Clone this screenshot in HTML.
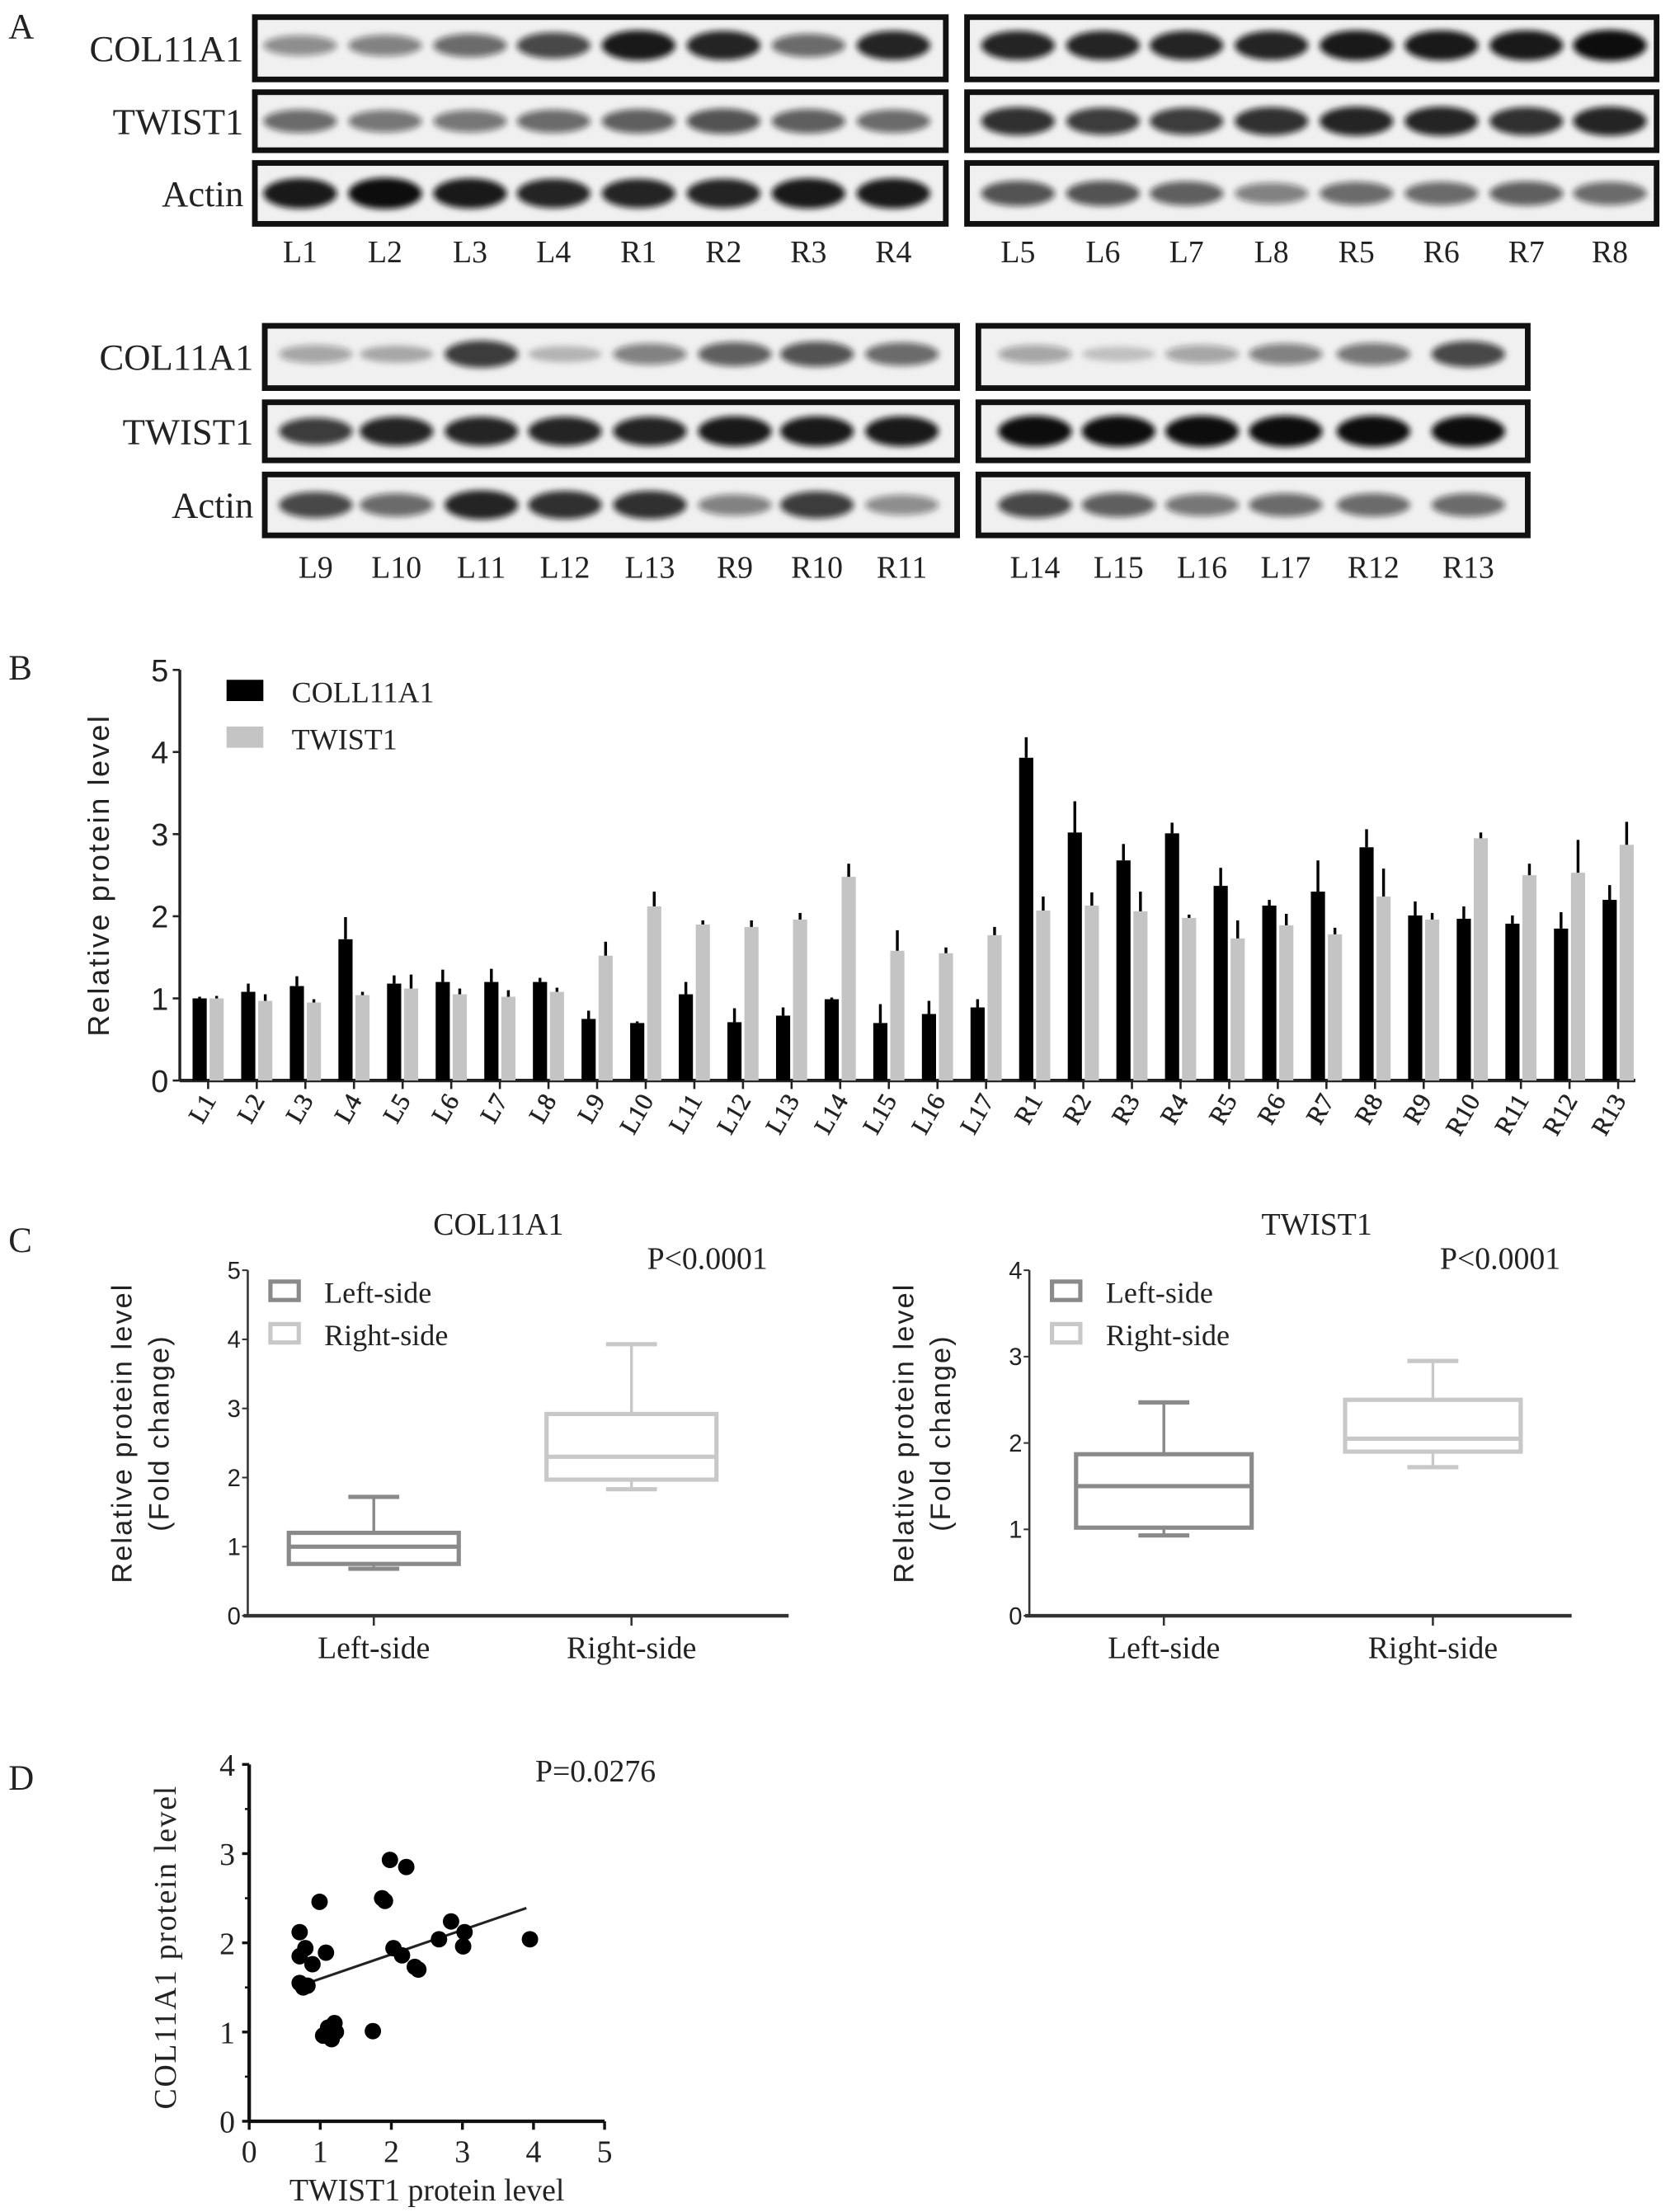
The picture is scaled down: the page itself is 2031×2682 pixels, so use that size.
<!DOCTYPE html>
<html><head><meta charset="utf-8"><style>
html,body{margin:0;padding:0;background:#fff;}
svg{display:block;}
text{font-family:"Liberation Serif",serif;fill:#222;}
.sans{font-family:"Liberation Sans",sans-serif;}
</style></head><body>
<svg id="fig" width="2031" height="2682" viewBox="0 0 1183 1562" xmlns="http://www.w3.org/2000/svg">
<defs><filter id="blur" x="-50%" y="-100%" width="200%" height="300%"><feGaussianBlur stdDeviation="2.2"/></filter></defs>
<g id="panelA">
<text x="6" y="27" font-size="25">A</text>
</g>
<g id="panelB">
<text x="6" y="480" font-size="25">B</text>
</g>
<g id="panelC">
<text x="6" y="884" font-size="25">C</text>
</g>
<g id="panelD">
<text x="6" y="1264" font-size="25">D</text>
</g>
</svg>
<script>
// ---------- Panel B data ----------
const categories=["L1","L2","L3","L4","L5","L6","L7","L8","L9","L10","L11","L12","L13","L14","L15","L16","L17","R1","R2","R3","R4","R5","R6","R7","R8","R9","R10","R11","R12","R13"];
const colValues=[1.0,1.08,1.15,1.72,1.18,1.2,1.2,1.2,0.75,0.7,1.05,0.71,0.79,0.99,0.7,0.81,0.89,3.93,3.02,2.68,3.01,2.37,2.13,2.3,2.84,2.01,1.97,1.91,1.85,2.2];
const colErrors=[0.02,0.1,0.12,0.27,0.1,0.15,0.16,0.05,0.1,0.02,0.15,0.17,0.1,0.02,0.23,0.16,0.1,0.25,0.38,0.2,0.13,0.22,0.07,0.38,0.22,0.17,0.15,0.1,0.2,0.18];
const twistValues=[1.0,0.97,0.95,1.04,1.12,1.05,1.02,1.08,1.52,2.12,1.9,1.87,1.96,2.48,1.58,1.55,1.77,2.07,2.13,2.06,1.98,1.73,1.89,1.78,2.24,1.96,2.95,2.5,2.53,2.87];
const twistErrors=[0.03,0.08,0.04,0.04,0.17,0.07,0.08,0.05,0.17,0.18,0.05,0.08,0.08,0.16,0.25,0.07,0.1,0.17,0.16,0.24,0.04,0.22,0.14,0.08,0.34,0.08,0.07,0.14,0.4,0.28];
const bTicks=[0,1,2,3,4,5];
// ---------- Panel C data ----------
const boxGroups=["Left-side","Right-side"];
const colBoxStats=[[0.68,0.75,1.0,1.2,1.72],[1.83,1.97,2.3,2.92,3.93]];
const twistBoxStats=[[0.93,1.02,1.5,1.87,2.47],[1.72,1.9,2.05,2.5,2.95]];
const colBoxTicks=[0,1,2,3,4,5];
const twistBoxTicks=[0,1,2,3,4];
// ---------- Panel D data ----------
const scatterTwist=[0.71,0.79,0.71,0.89,1.08,0.99,0.71,0.82,0.76,1.11,1.2,1.04,1.16,1.22,1.74,1.87,1.91,1.98,2.21,2.03,2.15,2.33,2.38,2.67,2.84,3.03,3.01,3.95];
const scatterCol=[2.12,1.94,1.85,1.76,1.89,2.46,1.55,1.52,1.5,1.05,1.1,0.96,0.92,1.0,1.01,2.5,2.47,2.93,2.85,1.94,1.86,1.73,1.7,2.04,2.24,2.12,1.96,2.04];
const fitLine=[[0.9,1.57],[3.9,2.39]];
const dTicksX=[0,1,2,3,4,5];
const dTicksY=[0,1,2,3,4];
// ---------- Panel A band intensities ----------
const blotSets=[
 {x0:178,x1:670,rows:[10,63,113],h:[48,45,47],lanes:["L1","L2","L3","L4","R1","R2","R3","R4"],cx:[212,272,332,391,451,511,571,631],ly:185,
  col:[0.45,0.5,0.6,0.75,0.95,0.9,0.6,0.9],tw:[0.6,0.55,0.55,0.6,0.65,0.7,0.65,0.6],ac:[0.95,1,0.95,0.9,0.9,0.9,0.95,0.95]},
 {x0:681,x1:1172,rows:[10,63,113],h:[48,45,47],lanes:["L5","L6","L7","L8","R5","R6","R7","R8"],cx:[719,779,838,898,958,1018,1078,1137],ly:185,
  col:[0.9,0.9,0.9,0.9,0.95,0.95,0.95,1],tw:[0.85,0.8,0.8,0.85,0.9,0.9,0.85,0.9],ac:[0.7,0.7,0.65,0.5,0.6,0.6,0.65,0.6]},
 {x0:185,x1:678,rows:[228,282,333],h:[48,45,47],lanes:["L9","L10","L11","L12","L13","R9","R10","R11"],cx:[223,280,340,399,459,519,577,637],ly:408,
  col:[0.35,0.3,0.8,0.25,0.5,0.65,0.7,0.6],tw:[0.8,0.9,0.9,0.9,0.9,0.95,0.95,0.95],ac:[0.75,0.6,0.9,0.85,0.85,0.5,0.8,0.45]},
 {x0:689,x1:1081,rows:[228,282,333],h:[48,45,47],lanes:["L14","L15","L16","L17","R12","R13"],cx:[731,790,849,908,970,1037],ly:408,
  col:[0.35,0.2,0.35,0.5,0.55,0.75],tw:[1,1,1,1,1,1],ac:[0.75,0.65,0.55,0.6,0.6,0.6]}
];
const rowLabels=["COL11A1","TWIST1","Actin"];

const NS="http://www.w3.org/2000/svg";
function mk(parent,tag,attrs,txt){const e=document.createElementNS(NS,tag);for(const k in attrs)e.setAttribute(k,attrs[k]);if(txt!==undefined)e.textContent=txt;parent.appendChild(e);return e;}

// ---------- Panel A ----------
const pA=document.getElementById('panelA');
blotSets.forEach((s,si)=>{
  s.rows.forEach((ry,ri)=>{
    if(si%2===0){
      const t=mk(pA,'text',{x:s.x0-6,y:ry+s.h[ri]/2+9,'font-size':26,'text-anchor':'end'},rowLabels[ri]);
      
      
    }
    const r=mk(pA,'rect',{x:s.x0+2,y:ry+2,width:s.x1-s.x0-4,height:s.h[ri]-4,fill:'#f0f0f0',stroke:'#111','stroke-width':4});
    
    
    const key=ri===0?'col':(ri===1?'tw':'ac');
    s.cx.forEach((cx,li)=>{
      const v=s[key][li];
      const b=mk(pA,'ellipse',{cx:cx,cy:ry+s.h[ri]/2-(ri===0?2:0),rx:26,ry:4+v*7,fill:'#111','fill-opacity':v,filter:'url(#blur)'});
      
      
    });
  });
  s.lanes.forEach((ln,li)=>{
    const t=mk(pA,'text',{x:s.cx[li],y:s.ly,'font-size':22,'text-anchor':'middle'},ln);
    
    
  });
});

// ---------- Panel B ----------
const pB=document.getElementById('panelB');
const bx0=127,by0=763,bUnit=58,bStep=34.34,bFirst=147;
const bY=v=>by0-v*bUnit, bX=i=>bFirst+i*bStep;
mk(pB,'line',{x1:bx0,y1:bY(5),x2:bx0,y2:by0,stroke:'#222','stroke-width':2});
mk(pB,'line',{x1:bx0,y1:by0,x2:1155,y2:by0,stroke:'#222','stroke-width':2.5});
bTicks.forEach(t=>{
  mk(pB,'line',{x1:bx0-5,y1:bY(t),x2:bx0,y2:bY(t),stroke:'#222','stroke-width':1.5});
  const e=mk(pB,'text',{x:bx0-8,y:bY(t)+8,'font-size':22,'text-anchor':'end',class:'sans'},t);
  
  
});
const yt=mk(pB,'text',{x:0,y:0,'font-size':21,'text-anchor':'middle',class:'sans','letter-spacing':'1.5',transform:'translate(77,618) rotate(-90)'},'Relative protein level');


categories.forEach((c,i)=>{
  const cx=bX(i);
  [[colValues,colErrors,-6,'#000'],[twistValues,twistErrors,6,'#c4c4c4']].forEach(([vals,errs,off,fill],si)=>{
    const v=vals[i],e=errs[i];
    const r=mk(pB,'rect',{x:cx+off-5,y:bY(v),width:10,height:by0-bY(v),fill:fill});
    
    
    const l=mk(pB,'line',{x1:cx+off,y1:bY(v),x2:cx+off,y2:bY(v+e),stroke:'#000','stroke-width':2});
    
    
  });
  mk(pB,'line',{x1:cx,y1:by0,x2:cx,y2:by0+6,stroke:'#222','stroke-width':1.5});
  const t=mk(pB,'text',{x:0,y:0,'font-size':18,'text-anchor':'end','stroke':'#222','stroke-width':0.3,transform:`translate(${cx+6},${by0+14}) rotate(-60)`},c);
  
  
});
[['COLL11A1','#000',490],['TWIST1','#c4c4c4',523]].forEach(([n,f,y])=>{
  const r=mk(pB,'rect',{x:160,y:y-10,width:26,height:15,fill:f});
  
  
  const t=mk(pB,'text',{x:206,y:y+6,'font-size':21},n);
  
  
});

// ---------- Panel C ----------
const pC=document.getElementById('panelC');
function boxPlot(o){
  const Y=v=>o.y0-v*o.unit;
  mk(pC,'line',{x1:o.ax,y1:Y(o.ticks[o.ticks.length-1]),x2:o.ax,y2:o.y0,stroke:'#333','stroke-width':1.5});
  mk(pC,'line',{x1:o.ax-3,y1:o.y0,x2:o.axEnd,y2:o.y0,stroke:'#333','stroke-width':2.5});
  o.ticks.forEach(t=>{
    mk(pC,'line',{x1:o.ax-4,y1:Y(t),x2:o.ax,y2:Y(t),stroke:'#333','stroke-width':1.2});
    const e=mk(pC,'text',{x:o.ax-5,y:Y(t)+6,'font-size':17,'text-anchor':'end',class:'sans'},t);
    
    
  });
  const tt=mk(pC,'text',{x:o.titleX,y:872,'font-size':22,'text-anchor':'middle'},o.title);
  
  
  const pp=mk(pC,'text',{x:o.pX,y:896,'font-size':22},'P<0.0001');
  
  
  const ya=mk(pC,'text',{x:0,y:0,'font-size':20,'text-anchor':'middle',class:'sans','letter-spacing':'1.2',transform:`translate(${o.ax-82},1012) rotate(-90)`},'Relative protein level');
  
  
  const yb=mk(pC,'text',{x:0,y:0,'font-size':20,'text-anchor':'middle',class:'sans','letter-spacing':'1.2',transform:`translate(${o.ax-56},1012) rotate(-90)`},'(Fold change)');
  
  
  o.stats.forEach((s,i)=>{
    const cx=o.cx[i],col=i===0?'#8a8a8a':'#c8c8c8',w=o.w/2;
    const g=mk(pC,'g',{stroke:col,'stroke-width':3,fill:'none'});
    
    
    mk(g,'line',{x1:cx,y1:Y(s[0]),x2:cx,y2:Y(s[1]),'stroke-width':2});
    mk(g,'line',{x1:cx,y1:Y(s[3]),x2:cx,y2:Y(s[4]),'stroke-width':2});
    mk(g,'line',{x1:cx-18,y1:Y(s[0]),x2:cx+18,y2:Y(s[0])});
    mk(g,'line',{x1:cx-18,y1:Y(s[4]),x2:cx+18,y2:Y(s[4])});
    mk(g,'rect',{x:cx-w,y:Y(s[3]),width:2*w,height:Y(s[1])-Y(s[3])});
    mk(g,'line',{x1:cx-w,y1:Y(s[2]),x2:cx+w,y2:Y(s[2])});
    mk(pC,'line',{x1:cx,y1:o.y0,x2:cx,y2:o.y0+7,stroke:'#333','stroke-width':1.5});
    const lb=mk(pC,'text',{x:cx,y:1171,'font-size':22,'text-anchor':'middle'},boxGroups[i]);
    
    
  });
  boxGroups.forEach((gname,i)=>{
    const y=912+i*30,col=i===0?'#8a8a8a':'#c8c8c8';
    const r=mk(pC,'rect',{x:o.ax+16,y:y-7,width:20,height:13,fill:'none',stroke:col,'stroke-width':3});
    
    
    const t=mk(pC,'text',{x:o.ax+54,y:y+8,'font-size':21},gname);
    
    
  });
}
boxPlot({ax:175,axEnd:557,y0:1141,unit:48.8,ticks:colBoxTicks,stats:colBoxStats,cx:[264,446],w:120,title:'COL11A1',titleX:352,pX:457});
boxPlot({ax:727,axEnd:1110,y0:1141,unit:61,ticks:twistBoxTicks,stats:twistBoxStats,cx:[822,1012],w:124,title:'TWIST1',titleX:930,pX:1017});

// ---------- Panel D ----------
const pD=document.getElementById('panelD');
const dx0=176,dy0=1498,dUx=50.2,dUy=63;
const dX=v=>dx0+v*dUx, dY=v=>dy0-v*dUy;
mk(pD,'line',{x1:dx0,y1:dY(4),x2:dx0,y2:dy0,stroke:'#111','stroke-width':2.5});
mk(pD,'line',{x1:dx0,y1:dy0,x2:dX(5),y2:dy0,stroke:'#111','stroke-width':2.5});
dTicksY.forEach(t=>{
  mk(pD,'line',{x1:dx0-5,y1:dY(t),x2:dx0,y2:dY(t),stroke:'#111','stroke-width':2});
  if(t<4) mk(pD,'line',{x1:dx0-3,y1:dY(t+0.5),x2:dx0,y2:dY(t+0.5),stroke:'#111','stroke-width':1.5});
  const e=mk(pD,'text',{x:dx0-10,y:dY(t)+8,'font-size':22,'text-anchor':'end'},t);
  
  
});
dTicksX.forEach(t=>{
  mk(pD,'line',{x1:dX(t),y1:dy0,x2:dX(t),y2:dy0+6,stroke:'#111','stroke-width':2});
  const e=mk(pD,'text',{x:dX(t),y:dy0+29,'font-size':22,'text-anchor':'middle'},t);
  
  
});
const dxt=mk(pD,'text',{x:dX(2.5),y:1554,'font-size':22,'text-anchor':'middle'},'TWIST1 protein level');


const dyt=mk(pD,'text',{x:0,y:0,'font-size':22,'text-anchor':'middle','letter-spacing':'1',transform:'translate(124,1375) rotate(-90)'},'COL11A1 protein level');


const dp=mk(pD,'text',{x:378,y:1258,'font-size':22},'P=0.0276');


const fl=mk(pD,'line',{x1:dX(fitLine[0][0]),y1:dY(fitLine[0][1]),x2:dX(fitLine[1][0]),y2:dY(fitLine[1][1]),stroke:'#222','stroke-width':1.8});


scatterTwist.forEach((x,i)=>{
  const c=mk(pD,'circle',{cx:dX(x),cy:dY(scatterCol[i]),r:5.8,fill:'#000'});
  
  
});
</script>
</body></html>
